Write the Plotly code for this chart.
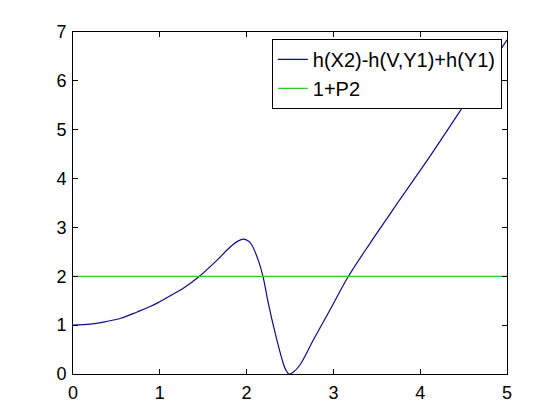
import plotly.graph_objects as go

# curve
x_vals = [0, 0.20, 0.35, 0.55, 0.74, 0.89, 1.0, 1.12, 1.275, 1.45, 1.66, 1.81, 1.90, 1.965,
          2.02, 2.06, 2.14, 2.19, 2.25, 2.33, 2.41, 2.45, 2.49, 2.54, 2.62, 2.77, 2.96,
          3.17, 3.42, 3.62, 3.75, 4.11, 4.57, 5.0]
y_vals = [1.0, 1.02, 1.06, 1.14, 1.27, 1.38, 1.48, 1.60, 1.76, 1.99, 2.33, 2.60, 2.72, 2.76,
          2.72, 2.64, 2.30, 1.99, 1.45, 0.83, 0.29, 0.09, 0.0, 0.04, 0.20, 0.70, 1.31,
          1.99, 2.67, 3.19, 3.53, 4.45, 5.68, 6.84]
p2_level = 2
x_range = [0, 5]
y_range = [0, 7]
x_ticks = [0, 1, 2, 3, 4, 5]
y_ticks = [0, 1, 2, 3, 4, 5, 6, 7]

FONT = 'Liberation Sans, Arial, sans-serif'

fig = go.Figure()
fig.add_trace(go.Scatter(
    x=x_vals, y=y_vals, mode='lines', name='h(X2)-h(V,Y1)+h(Y1)',
    line=dict(color='#0c0c8c', width=1.2, shape='spline', smoothing=1.0),
))
fig.add_trace(go.Scatter(
    x=x_range, y=[p2_level, p2_level], mode='lines', name='1+P2',
    line=dict(color='#2ccc2c', width=1.2),
))

axis_common = dict(
    showline=True, linecolor='black', linewidth=1, mirror='ticks',
    ticks='inside', ticklen=5, tickcolor='black',
    showgrid=False, zeroline=False,
    tickfont=dict(family=FONT, size=18, color='black'),
)
fig.update_xaxes(range=x_range, tickvals=x_ticks, ticklabelstandoff=2, **axis_common)
fig.update_yaxes(range=y_range, tickvals=y_ticks, ticklabelstandoff=2, **axis_common)

# page body has an 8px margin, so the figure is a bit smaller than the window
fig.update_layout(
    width=552, height=412,
    margin=dict(l=65, r=53, t=24, b=46),
    paper_bgcolor='white', plot_bgcolor='white',
    font=dict(family=FONT, size=18, color='black'),
    legend=dict(
        x=0.988, y=0.98, xanchor='right', yanchor='top',
        bgcolor='white', bordercolor='black', borderwidth=1,
        font=dict(family=FONT, size=20, color='black'),
        tracegroupgap=0,
    ),
)

fig.write_html("out.html")
